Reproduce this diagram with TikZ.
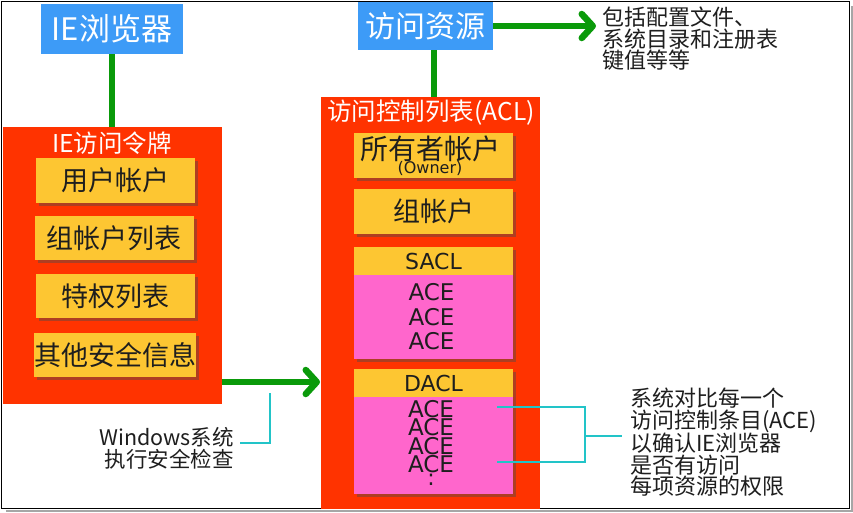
\documentclass[tikz,border=0pt]{standalone}
\usepackage{fontspec}
\setmainfont{Noto Sans CJK SC}
\newfontfamily\latinf{DejaVu Sans}
\usetikzlibrary{arrows.meta,shadows}
\definecolor{ieblue}{HTML}{3D9BF7}
\definecolor{tokred}{HTML}{FF3300}
\definecolor{boxyellow}{HTML}{FDC632}
\definecolor{acepink}{HTML}{FF66CC}
\definecolor{linegreen}{HTML}{0A9A0A}
\definecolor{linecyan}{HTML}{22C4C8}
\definecolor{txtdark}{HTML}{1E1E1E}
\tikzset{
  bluebox/.style={fill=ieblue, text=white, inner sep=0pt},
  redbox/.style={fill=tokred, inner sep=0pt, anchor=north west},
  redtitle/.style={text=white, font=\fontsize{24.5}{26}\selectfont},
  ybox/.style={fill=boxyellow, text=txtdark, inner sep=0pt, minimum width=159pt,
    drop shadow={shadow xshift=3pt, shadow yshift=-3pt, opacity=0.45, fill=black!70},
    font=\fontsize{27}{29}\selectfont},
  pinkbox/.style={fill=acepink, text=txtdark, inner sep=0pt, minimum width=159pt,
    drop shadow={shadow xshift=3pt, shadow yshift=-3pt, opacity=0.45, fill=black!70}},
  aceline/.style={text=txtdark, align=center, inner sep=0pt},
  greenline/.style={draw=linegreen, line width=6.5pt},
  greenarrow/.style={draw=linegreen, line width=6.5pt,
    -{Straight Barb[length=11pt, width=24pt, line cap=round, line join=round]}},
  cyanline/.style={draw=linecyan, line width=2.2pt},
  note/.style={text=txtdark, align=left, inner sep=0pt},
}
\begin{document}
\begin{tikzpicture}[x=1pt, y=-1pt]
\useasboundingbox (0,0) rectangle (853,512);
\fill[white] (0,0) rectangle (853,512);
% frame
\draw[black!35, line width=2.5pt] (852,6) -- (852,511) -- (6,511);
\draw[black, line width=1.4pt] (1.5,1.5) rectangle (849.5,508.5);

% left: IE browser and token
\node[bluebox, minimum width=142pt, minimum height=50pt, font=\fontsize{31}{33}\selectfont] (ie) at (112,29) {IE浏览器};
\node[redbox, minimum width=219pt, minimum height=277pt] (tok) at (3,127) {};
\draw[greenline] (ie.south) -- (ie.south |- tok.north);
\node[redtitle] (toktitle) at (112,143) {IE访问令牌};
\node[ybox, minimum height=45pt] (user) at (115,180.5) {用户帐户};
\node[ybox, minimum height=44pt] (grp) at (114,238) {组帐户列表};
\node[ybox, minimum height=44pt] (priv) at (115,296) {特权列表};
\node[ybox, minimum height=44pt] (other) at (115,355) {其他安全信息};

% right: resource and ACL
\node[bluebox, minimum width=135pt, minimum height=48pt, font=\fontsize{30}{32}\selectfont] (res) at (425.5,26) {访问资源};
\node[redbox, minimum width=219pt, minimum height=412pt] (acl) at (321,97) {};
\draw[greenline] (434,50) -- (434,97);
\node[redtitle] (acltitle) at (431,113) {访问控制列表(ACL)};
\node[ybox, minimum height=45pt] (owner) at (433.5,155.5) {};
\node[text=txtdark, inner sep=0pt, font=\fontsize{28}{30}\selectfont] (ownertxt) at (430,149) {所有者帐户};
\node[text=txtdark, inner sep=0pt, font=\latinf\fontsize{16}{17}\selectfont] (ownersub) at (430,168.5) {(Owner)};
\node[ybox, minimum height=45pt] (agrp) at (433.5,211.5) {组帐户};
\node[ybox, minimum height=28pt, font=\latinf\fontsize{22}{24}\selectfont] (sacl) at (433.5,261) {SACL};
\node[pinkbox, minimum height=84pt] (saclace) at (433.5,317) {};
\node[aceline, font=\latinf\fontsize{23}{24.5}\selectfont] (saclacetxt) at (431.5,317) {ACE\\ACE\\ACE};
\node[ybox, minimum height=28pt, font=\latinf\fontsize{22}{24}\selectfont] (dacl) at (433.5,383) {DACL};
\node[pinkbox, minimum height=97pt] (daclace) at (433.5,445.5) {};
\node[aceline, font=\latinf\fontsize{23}{16.4}\selectfont, anchor=north] (daclacetxt) at (431,400) {ACE\\ACE\\ACE\\ACE};
\node[aceline, font=\latinf\fontsize{22}{24}\selectfont] (dots) at (431,480) {:};

% arrows
\coordinate (tokout) at (222,382);
\coordinate (aclin) at (320,382);
\draw[greenarrow] (tokout) -- (aclin);
\coordinate (resout) at (596,26);
\draw[greenarrow] (res.east |- resout) -- (resout);

% notes
\node[note, anchor=north west, font=\fontsize{22}{21.5}\selectfont] (resnote) at (602,7) {包括配置文件、\\系统目录和注册表\\键值等等};

\coordinate (chk1) at (270,393);
\coordinate (chk2) at (240,443);
\draw[cyanline] (chk1) |- (chk2);
\node[note, align=right, anchor=east, font=\fontsize{21.5}{22}\selectfont] (chknote) at (234,448) {Windows系统\\执行安全检查};

\coordinate (b1) at (497,407);
\coordinate (b2) at (497,462);
\coordinate (bm) at (585,436);
\coordinate (be) at (622,436);
\draw[cyanline] (b1) -- (bm |- b1) -- (bm |- b2) -- (b2);
\draw[cyanline] (bm) -- (be);
\node[note, anchor=north west, font=\fontsize{22}{21.2}\selectfont] (acenote) at (630,388) {系统对比每一个\\访问控制条目(ACE)\\以确认IE浏览器\\是否有访问\\每项资源的权限};
\end{tikzpicture}
\end{document}
